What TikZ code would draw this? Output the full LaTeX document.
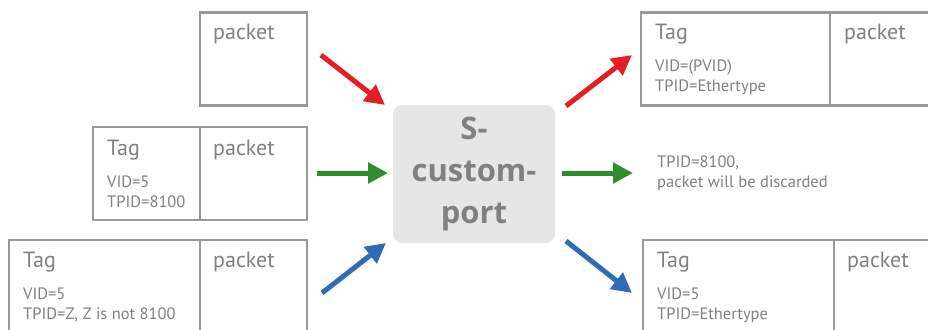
\documentclass[tikz,border=0pt]{standalone}
\usepackage{fontspec}
\setmainfont{PT Sans}
\newfontfamily\portfont{Open Sans}
\usepackage{tikz}
\usetikzlibrary{arrows.meta, positioning}
\definecolor{boxgray}{HTML}{999999}
\definecolor{txtgray}{HTML}{808080}
\definecolor{portfill}{HTML}{E6E6E6}
\definecolor{arrred}{HTML}{E31E24}
\definecolor{arrgreen}{HTML}{2F8C2F}
\definecolor{arrblue}{HTML}{2E6DB4}
\tikzstyle{frame}=[rectangle, draw=boxgray, line width=2.5pt, inner sep=0pt, outer sep=0pt, minimum height=93pt]
\tikzstyle{big}=[text=txtgray, font=\fontsize{22}{26}\selectfont, anchor=base west, inner sep=0pt]
\tikzstyle{small}=[text=txtgray, font=\fontsize{16.5}{20}\selectfont, anchor=base west, inner sep=0pt, align=left]
\tikzstyle{flow}=[line width=5pt, -{Triangle[length=20pt,width=20pt]}]

\begin{document}
\begin{tikzpicture}[x=1pt, y=-1pt]
        \clip (0,0) rectangle (928,329);
        \node[frame, minimum width=107pt] (pkt1) at (253.5,59) {};
        \node[frame, minimum width=107pt] (pkt2) at (253.5,173.5) {};
        \node[frame, minimum width=107pt, left=0pt of pkt2] (tag2) {};
        \node[frame, minimum width=107pt] (pkt3) at (253.5,286.5) {};
        \node[frame, minimum width=191pt, left=0pt of pkt3] (tag3) {};

        \node[frame, minimum width=189pt] (rtag1) at (735.5,59) {};
        \node[frame, minimum width=107pt, right=0pt of rtag1] (rpkt1) {};
        \node[frame, minimum width=191pt] (rtag3) at (738.5,286.5) {};
        \node[frame, minimum width=107pt, right=0pt of rtag3] (rpkt3) {};

        \node[big] (p1) at ([xshift=13pt,yshift=-27pt]pkt1.north west) {packet};
        \node[big] (p2) at ([xshift=13pt,yshift=-28pt]pkt2.north west) {packet};
        \node[big] (t2) at ([xshift=14pt,yshift=-28pt]tag2.north west) {Tag};
        \node[small] (v2) at ([xshift=14pt,yshift=-80pt]tag2.north west) {VID=5\\TPID=8100};
        \node[big] (p3) at ([xshift=13pt,yshift=-27pt]pkt3.north west) {packet};
        \node[big] (t3) at ([xshift=14pt,yshift=-27pt]tag3.north west) {Tag};
        \node[small] (v3) at ([xshift=14pt,yshift=-79pt]tag3.north west) {VID=5\\TPID=Z, Z is not 8100};

        \node[big] (rt1) at ([xshift=14pt,yshift=-27pt]rtag1.north west) {Tag};
        \node[small] (rv1) at ([xshift=14pt,yshift=-79pt]rtag1.north west) {VID=(PVID)\\TPID=Ethertype};
        \node[big] (rp1) at ([xshift=14pt,yshift=-27pt]rpkt1.north west) {packet};
        \node[big] (rt3) at ([xshift=14pt,yshift=-27pt]rtag3.north west) {Tag};
        \node[small] (rv3) at ([xshift=14pt,yshift=-79pt]rtag3.north west) {VID=5\\TPID=Ethertype};
        \node[big] (rp3) at ([xshift=13pt,yshift=-27pt]rpkt3.north west) {packet};
        \node[small] (drop) at (657,187) {TPID=8100,\\packet will be discarded};

        \node[rectangle, rounded corners=9pt, fill=portfill, minimum width=162pt, minimum height=138pt,
              text=txtgray, align=center, font=\portfont\bfseries\fontsize{31}{42}\selectfont] (port) at (474,174) {S-\\custom-\\port};

        \coordinate (a1) at (321,55);  \coordinate (b1) at (385,105);
        \coordinate (a2) at (317,173); \coordinate (b2) at (388,173);
        \coordinate (a3) at (322,293); \coordinate (b3) at (386,243);
        \coordinate (c1) at (566,106); \coordinate (d1) at (632,55);
        \coordinate (c2) at (562,173); \coordinate (d2) at (633,173);
        \coordinate (c3) at (566,241); \coordinate (d3) at (632,293);

        \draw[flow, arrred] (a1) -- (b1);
        \draw[flow, arrgreen] (a2) -- (b2);
        \draw[flow, arrblue] (a3) -- (b3);
        \draw[flow, arrred] (c1) -- (d1);
        \draw[flow, arrgreen] (c2) -- (d2);
        \draw[flow, arrblue] (c3) -- (d3);
      \end{tikzpicture}
\end{document}
